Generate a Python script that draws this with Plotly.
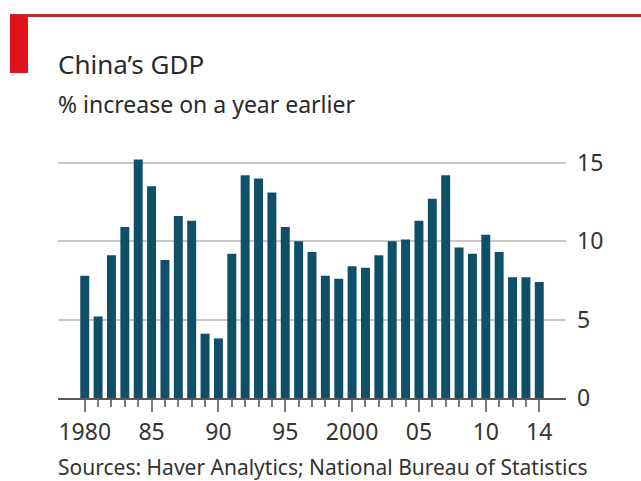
import plotly.graph_objects as go

years = list(range(1980, 2015))
gdp_growth = [7.8, 5.2, 9.1, 10.9, 15.2, 13.5, 8.8, 11.6, 11.3, 4.1,
              3.8, 9.2, 14.2, 14.0, 13.1, 10.9, 10.0, 9.3, 7.8, 7.6,
              8.4, 8.3, 9.1, 10.0, 10.1, 11.3, 12.7, 14.2, 9.6, 9.2,
              10.4, 9.3, 7.7, 7.7, 7.4]
x_tick_vals = [1980, 1985, 1990, 1995, 2000, 2005, 2010, 2014]
x_tick_text = ["1980", "85", "90", "95", "2000", "05", "10", "14"]
y_tick_vals = [0, 5, 10, 15]
y_tick_text = ["0", "5", "10", "15"]

title = "China’s GDP"
subtitle = "% increase on a year earlier"
source = "Sources: Haver Analytics; National Bureau of Statistics"

WIDTH, HEIGHT = 641, 481
L, R, T, B = 58, 75, 158, 83
PW = WIDTH - L - R
PH = HEIGHT - T - B
FONT = "Noto Sans"


def px(x):
    return (x - L) / PW


def py(y):
    return (HEIGHT - B - y) / PH


fig = go.Figure(go.Bar(x=years, y=gdp_growth, marker=dict(color="#0f4f68", line=dict(width=0)),
                       hoverinfo="x+y"))

fig.update_layout(
    width=WIDTH, height=HEIGHT,
    margin=dict(l=L, r=R, t=T, b=B, pad=0),
    paper_bgcolor="#ffffff", plot_bgcolor="#ffffff",
    bargap=0.33, showlegend=False,
    font=dict(family=FONT, color="#333333"),
    xaxis=dict(range=[1978, 2016], tickmode="array", tickvals=x_tick_vals, ticktext=x_tick_text,
               ticks="outside", ticklen=12, tickwidth=2, tickcolor="#7a7a7a",
               minor=dict(tickmode="array", tickvals=years, ticks="outside", ticklen=7,
                          tickwidth=2, tickcolor="#7a7a7a"),
               showline=True, linecolor="#5a5a5a", linewidth=2,
               showgrid=False, zeroline=False,
               tickfont=dict(size=23, color="#333333")),
    yaxis=dict(range=[0, 15.3], side="right", tickmode="array", tickvals=y_tick_vals,
               ticktext=y_tick_text, ticks="", showline=False, zeroline=False,
               showgrid=True, gridcolor="#c9c9c9", gridwidth=2,
               ticklabelstandoff=10, tickfont=dict(size=23, color="#333333")),
)

# Decorative red header line and tag
fig.add_shape(type="line", xref="paper", yref="paper", x0=px(10), x1=px(641), y0=py(15.5), y1=py(15.5),
              line=dict(color="#c22a33", width=3))
fig.add_shape(type="rect", xref="paper", yref="paper", x0=px(10), x1=px(28), y0=py(15), y1=py(73),
              fillcolor="#e0121a", line=dict(width=0))

fig.add_annotation(text=title, xref="paper", yref="paper", x=px(56), y=py(64), xanchor="left",
                   yanchor="middle", showarrow=False, font=dict(size=26, color="#2a2a2a", family=FONT))
fig.add_annotation(text=subtitle, xref="paper", yref="paper", x=px(56), y=py(104), xanchor="left",
                   yanchor="middle", showarrow=False, font=dict(size=23, color="#2a2a2a", family=FONT))
fig.add_annotation(text=source, xref="paper", yref="paper", x=px(56), y=py(467), xanchor="left",
                   yanchor="middle", showarrow=False, font=dict(size=21, color="#333333", family=FONT))

fig.write_html("out.html")
